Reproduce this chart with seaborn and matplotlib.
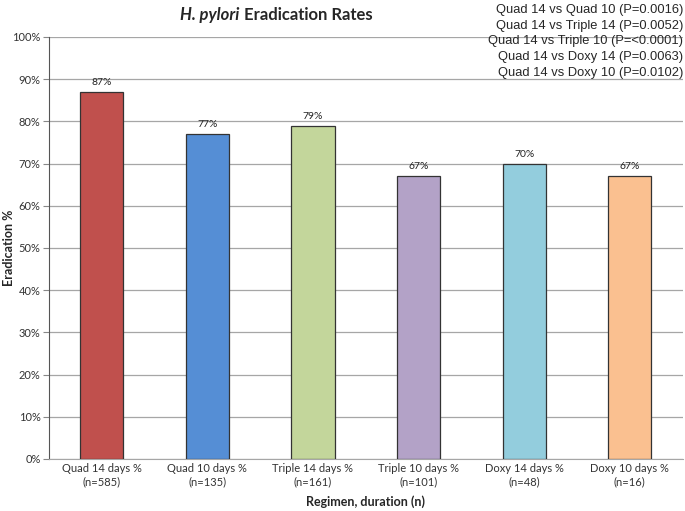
import matplotlib
matplotlib.use("Agg")
import matplotlib.pyplot as plt
import seaborn as sns
import pandas as pd

# data
regimens = ["Quad 14 days %\n(n=585)", "Quad 10 days %\n(n=135)", "Triple 14 days %\n(n=161)",
            "Triple 10 days %\n(n=101)", "Doxy 14 days %\n(n=48)", "Doxy 10 days %\n(n=16)"]
rates = [87, 77, 79, 67, 70, 67]
bar_colors = ["#C0504D", "#558ED5", "#C3D69B", "#B3A2C7", "#93CDDD", "#FAC090"]
p_values = ["Quad 14 vs Quad 10 (P=0.0016)", "Quad 14 vs Triple 14 (P=0.0052)",
            "Quad 14 vs Triple 10 (P=<0.0001)", "Quad 14 vs Doxy 14 (P=0.0063)",
            "Quad 14 vs Doxy 10 (P=0.0102)"]

df = pd.DataFrame({"regimen": regimens, "rate": rates})

sns.set_style("white")
plt.rcParams["font.family"] = ["Lato", "DejaVu Sans"]

fig = plt.figure(figsize=(6.85, 5.11), dpi=100)
ax = fig.add_axes([0.0715, 0.1018, 0.925, 0.8258])

sns.barplot(data=df, x="regimen", y="rate", hue="regimen", palette=bar_colors,
            saturation=1, width=0.41, edgecolor="#333333", linewidth=0.9,
            legend=False, ax=ax, zorder=3)

for i, v in enumerate(rates):
    ax.text(i, v + 1.2, f"{v}%", ha="center", va="bottom", fontsize=7.5, color="#222222")

ax.set_ylim(0, 100)
ax.set_xlim(-0.5, 5.5)
ax.set_yticks(range(0, 101, 10))
ax.set_yticklabels([f"{t}%" for t in range(0, 101, 10)], fontsize=8, color="#333333")
ax.tick_params(axis="x", labelsize=8, colors="#333333", length=0, pad=3)
ax.tick_params(axis="y", length=4, direction="out", left=True, width=0.8, color="#888888", pad=2)
ax.yaxis.grid(True, color="#A6A6A6", linewidth=0.9, zorder=0)
ax.set_axisbelow(True)

for s in ["top", "right"]:
    ax.spines[s].set_visible(False)
ax.spines["left"].set_color("#555555")
ax.spines["bottom"].set_color("#A6A6A6")

ax.set_xlabel("Regimen, duration (n)", fontsize=9, fontweight="bold", labelpad=6)
ax.set_ylabel("Eradication %", fontsize=9, fontweight="bold")
ax.yaxis.set_label_coords(-0.053, 0.5)

# title with italic species name
t1 = fig.text(0.263, 0.970, "H. pylori", fontsize=12, fontweight="bold", style="italic",
              ha="left", va="center")
ax.annotate(" Eradication Rates", xy=(1, 0), xycoords=t1, va="bottom", ha="left",
            fontsize=12, fontweight="bold")

for k, line in enumerate(p_values):
    fig.text(0.997, 0.980 - k * 0.0305, line, ha="right", va="center", fontsize=9.3,
             family=["Liberation Sans", "DejaVu Sans"])

fig.savefig("out.png", dpi=100)
